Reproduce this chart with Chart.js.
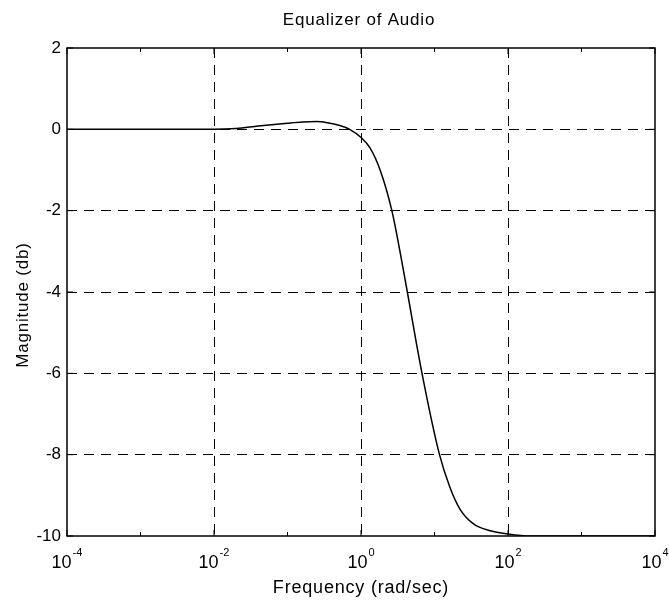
<!DOCTYPE html>
<html>
<head>
<meta charset="utf-8">
<title>Equalizer of Audio</title>
<script src="https://cdn.jsdelivr.net/npm/chart.js@4.4.1/dist/chart.umd.min.js"></script>
<style>
  html, body { margin: 0; padding: 0; background: #fff; }
  #wrap { width: 669px; height: 600px; }
</style>
</head>
<body>
<div id="wrap"><canvas id="eqChart" width="669" height="600"></canvas></div>
<script>
// Frequency response of the audio equalizer (rad/sec vs dB)
const frequency = [0.0001, 0.001, 0.01, 0.02, 0.04, 0.1, 0.16, 0.25, 0.35, 0.5, 0.7,
                   1, 1.32, 1.82, 2.63, 3.39, 4.27, 6.76, 11.7, 16.2, 22.4, 33.9, 57.5,
                   100, 200, 1000, 10000];
const magnitude = [0, 0, 0, 0.02, 0.08, 0.15, 0.18, 0.19, 0.16, 0.1, 0.0,
                   -0.2, -0.45, -1.0, -2.0, -3.0, -4.0, -6.0, -8.0, -8.8, -9.35, -9.7, -9.87,
                   -9.95, -10, -10, -10];

const decadeExponents = [-4, -3, -2, -1, 0, 1, 2, 3, 4];
const labelExponents = [-4, -2, 0, 2, 4];
const magnitudeTicks = [2, 0, -2, -4, -6, -8, -10];

const FONT = '"Liberation Sans", Arial, Helvetica, sans-serif';

const points = frequency.map((f, i) => ({ x: f, y: magnitude[i] }));

// box, inward tick marks, power-of-ten labels and titles
const axesDecor = {
    id: "axesDecor",
    afterDraw(chart) {
        const { ctx, chartArea: a, scales: { x, y } } = chart;
        ctx.save();
        ctx.strokeStyle = "#000";
        ctx.lineWidth = 1.5;
        ctx.setLineDash([]);
        ctx.strokeRect(a.left, a.top, a.right - a.left, a.bottom - a.top);

        ctx.lineWidth = 1;
        ctx.beginPath();
        decadeExponents.forEach(e => {
            const px = x.getPixelForValue(Math.pow(10, e));
            const len = e % 2 === 0 ? 6 : 4;
            ctx.moveTo(px, a.bottom); ctx.lineTo(px, a.bottom - len);
            ctx.moveTo(px, a.top); ctx.lineTo(px, a.top + len);
        });
        magnitudeTicks.forEach(v => {
            const py = y.getPixelForValue(v);
            ctx.moveTo(a.left, py); ctx.lineTo(a.left + 6, py);
            ctx.moveTo(a.right, py); ctx.lineTo(a.right - 6, py);
        });
        ctx.stroke();

        ctx.fillStyle = "#000";
        ctx.textBaseline = "alphabetic";
        ctx.textAlign = "left";
        labelExponents.forEach(e => {
            const px = x.getPixelForValue(Math.pow(10, e));
            ctx.font = "18px " + FONT;
            const base = "10";
            const wb = ctx.measureText(base).width;
            ctx.font = "11px " + FONT;
            const sup = String(e);
            const ws = ctx.measureText(sup).width;
            const left = px - (wb + 1 + ws) / 2;
            ctx.font = "18px " + FONT;
            ctx.fillText(base, left, 568);
            ctx.font = "11px " + FONT;
            ctx.fillText(sup, left + wb + 1, 556);
        });

        ctx.letterSpacing = "0.8px";
        ctx.textAlign = "center";
        ctx.font = "17px " + FONT;
        ctx.fillText("Equalizer of Audio", (a.left + a.right) / 2 - 2, 25);

        ctx.font = "18px " + FONT;
        ctx.fillText("Frequency (rad/sec)", (a.left + a.right) / 2, 593);

        ctx.font = "17px " + FONT;
        ctx.translate(28, 305);
        ctx.rotate(-Math.PI / 2);
        ctx.fillText("Magnitude (db)", 0, 0);
        ctx.restore();
    }
};

new Chart(document.getElementById("eqChart"), {
    type: "line",
    data: {
        datasets: [{
            data: points,
            borderColor: "#000",
            borderWidth: 1.5,
            pointRadius: 0,
            fill: false,
            cubicInterpolationMode: "monotone"
        }]
    },
    options: {
        responsive: false,
        animation: false,
        layout: { padding: { left: 0, right: 14, top: 48, bottom: 64 } },
        plugins: {
            legend: { display: false },
            tooltip: { enabled: false },
            title: { display: false }
        },
        scales: {
            x: {
                type: "logarithmic",
                min: 1e-4,
                max: 1e4,
                afterBuildTicks: scale => {
                    scale.ticks = decadeExponents.map(e => ({ value: Math.pow(10, e) }));
                },
                afterFit: scale => { scale.height = 0; },
                ticks: { display: false },
                border: { display: false, dash: [10, 7] },
                grid: {
                    drawTicks: false,
                    lineWidth: 1,
                    color: c => {
                        if (!c.tick) return "rgba(0,0,0,0)";
                        const e = Math.round(Math.log10(c.tick.value));
                        return (e % 2 === 0 && e > -4 && e < 4) ? "#000" : "rgba(0,0,0,0)";
                    }
                }
            },
            y: {
                min: -10,
                max: 2,
                afterBuildTicks: scale => {
                    scale.ticks = magnitudeTicks.map(v => ({ value: v }));
                },
                afterFit: scale => { scale.width = 67; },
                ticks: {
                    padding: 6,
                    color: "#000",
                    font: { family: FONT, size: 17 }
                },
                border: { display: false, dash: [10, 7] },
                grid: {
                    drawTicks: false,
                    lineWidth: 1,
                    color: c => {
                        if (!c.tick) return "rgba(0,0,0,0)";
                        const v = c.tick.value;
                        return (v < 1 && v > -9) ? "#000" : "rgba(0,0,0,0)";
                    }
                }
            }
        }
    },
    plugins: [axesDecor]
});
</script>
</body>
</html>
